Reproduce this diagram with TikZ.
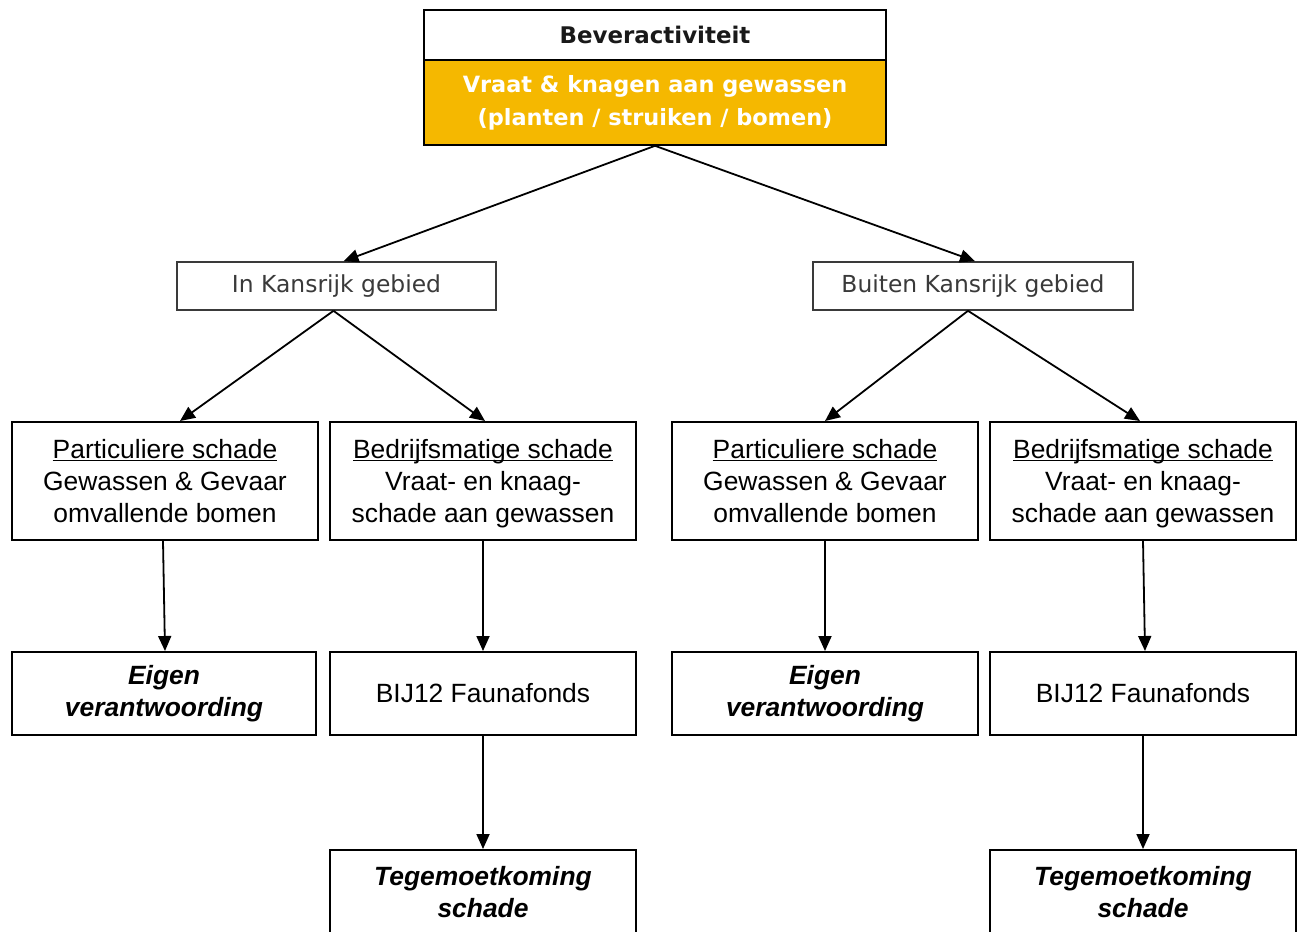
\documentclass[tikz,border=0pt]{standalone}
\usepackage{fontspec}
\setmainfont{Liberation Sans}
\newfontfamily\verd{DejaVu Sans}
\usetikzlibrary{arrows.meta,calc}
\definecolor{gold}{HTML}{F5B800}
\definecolor{midgray}{HTML}{3A3A3A}
\newcommand\mylskip{\lineskiplimit=-100pt\lineskip=0pt\relax}
\newcommand\nodepth[1]{\raisebox{0pt}[\height][0pt]{#1}}
\newcommand\myul[1]{\underline{\nodepth{#1}}}
\begin{document}
\begin{tikzpicture}[x=1bp,y=-1bp,
  box/.style={draw=black, line width=2bp, minimum width=306bp, minimum height=118bp,
    align=center, inner sep=0pt, font={\fontsize{26.5}{32}\selectfont\mylskip}},
  lowbox/.style={box, minimum height=83bp},
  endbox/.style={box, minimum height=84bp, font={\fontsize{26.5}{32}\selectfont\bfseries\itshape}},
  areabox/.style={draw=midgray, line width=1.6bp, minimum width=319bp, minimum height=48bp,
    inner sep=0pt, text=midgray, font=\verd\fontsize{23.5}{28}\selectfont},
  arr/.style={line width=1.8bp, -{Triangle[length=15bp,width=13bp]}}]
\clip (0,0) rectangle (1308,931);
\fill[white] (0,0) rectangle (1308,931);
% top
\node[draw=black, line width=1.6bp, minimum width=462bp, minimum height=50bp, inner sep=0pt,
  font=\verd\bfseries\fontsize{23}{28}\selectfont, text=black!90] (bev) at (655,35) {Beveractiviteit};
\node[draw=black, line width=1.6bp, fill=gold, minimum width=462bp, minimum height=85bp, inner sep=0pt,
  align=center, text=white, font=\verd\bfseries\fontsize{22.5}{33}\selectfont] (vraat) at (655,102.5)
  {Vraat \& knagen aan gewassen\\(planten / struiken / bomen)};
% area
\node[areabox] (ik) at (336.5,286) {In Kansrijk gebied};
\node[areabox, minimum width=320bp] (bk) at (973,286) {Buiten Kansrijk gebied};
% row 3
\node[box] (p1) at (165,481) {\myul{Particuliere schade}\\Gewassen \& Gevaar\\omvallende bomen};
\node[box] (b1) at (483,481) {\myul{Bedrijfsmatige schade}\\Vraat- en knaag-\\\nodepth{schade aan gewassen}};
\node[box] (p2) at (825,481) {\myul{Particuliere schade}\\Gewassen \& Gevaar\\omvallende bomen};
\node[box] (b2) at (1143,481) {\myul{Bedrijfsmatige schade}\\Vraat- en knaag-\\\nodepth{schade aan gewassen}};
% row 4
\node[endbox, minimum width=304bp, minimum height=83bp] (e1) at (164,693.5) {Eigen\\verantwoording};
\node[lowbox] (f1) at (483,693.5) {BIJ12 Faunafonds};
\node[endbox, minimum height=83bp] (e2) at (825,693.5) {Eigen\\verantwoording};
\node[lowbox] (f2) at (1143,693.5) {BIJ12 Faunafonds};
% row 5
\node[endbox] (t1) at (483,892) {Tegemoetkoming\\schade};
\node[endbox] (t2) at (1143,892) {Tegemoetkoming\\schade};
% arrows
\draw[arr] (vraat.south) -- ([xshift=7bp]ik.north);
\draw[arr] (vraat.south) -- ([xshift=2bp]bk.north);
\draw[arr] ([xshift=-3bp]ik.south) -- ([xshift=15bp]p1.north);
\draw[arr] ([xshift=-3bp]ik.south) -- ([xshift=2bp]b1.north);
\draw[arr] ([xshift=-5bp]bk.south) -- (p2.north);
\draw[arr] ([xshift=-5bp]bk.south) -- ([xshift=-3bp]b2.north);
\draw[arr] ([xshift=-2bp]p1.south) -- ([xshift=1bp]e1.north);
\draw[arr] (b1.south) -- (f1.north);
\draw[arr] (p2.south) -- (e2.north);
\draw[arr] (b2.south) -- ([xshift=2bp]f2.north);
\draw[arr] (f1.south) -- (t1.north);
\draw[arr] (f2.south) -- (t2.north);
\end{tikzpicture}
\end{document}
